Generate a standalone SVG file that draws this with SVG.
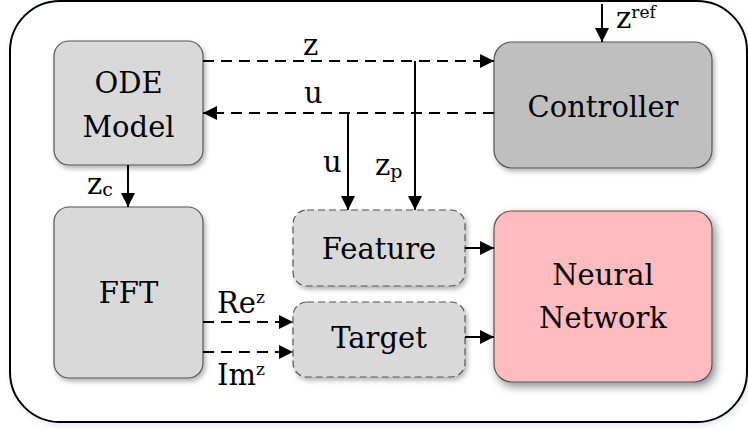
<svg xmlns="http://www.w3.org/2000/svg" width="748" height="429" viewBox="0 0 748 429">
<style>
.t{font-family:"DejaVu Serif","Liberation Serif",serif;fill:#000}
.n{font-size:29px;text-anchor:middle}
.l{font-size:29px}
.s{font-size:19px}
.sp{font-size:17px}
.box{stroke:#555;stroke-width:1.2}
.dbox{stroke:#555;stroke-width:1.2;stroke-dasharray:7 4}
.c{fill:none;stroke:#000;stroke-width:2}
.d{stroke-dasharray:11 7}
</style>
<defs>
<marker id="ah" viewBox="0 0 14 14" refX="14" refY="7" markerWidth="14" markerHeight="14" markerUnits="userSpaceOnUse" orient="auto">
<path d="M0,0 L14,7 L0,14 z" fill="#000"/>
</marker>
<filter id="sh" x="-10%" y="-10%" width="125%" height="130%">
<feDropShadow dx="2" dy="3" stdDeviation="2.5" flood-color="#000" flood-opacity="0.3"/>
</filter>
<filter id="sh2" x="-15%" y="-15%" width="135%" height="135%">
<feDropShadow dx="3" dy="4" stdDeviation="5" flood-color="#000" flood-opacity="0.45"/>
</filter>
<filter id="fsh" x="-5%" y="-5%" width="110%" height="110%">
<feDropShadow dx="2" dy="3" stdDeviation="3" flood-color="#4a6a9a" flood-opacity="0.15"/>
</filter>
</defs>
<rect width="748" height="429" fill="#fff"/>
<g id="frame">
<rect x="10" y="1" width="737" height="421" rx="50" ry="50" fill="#fff" stroke="#000" stroke-width="2" filter="url(#fsh)"/>
</g>
<g id="ode">
<rect class="box" x="54" y="41" width="149" height="124" rx="15" fill="#d9d9d9" filter="url(#sh)"/>
<text class="t n" x="128.5" y="93">ODE</text>
<text class="t n" x="128.5" y="137">Model</text>
</g>
<g id="fft">
<rect class="box" x="54" y="207" width="149" height="171" rx="15" fill="#d9d9d9" filter="url(#sh)"/>
<text class="t n" x="128.5" y="303">FFT</text>
</g>
<g id="controller">
<rect class="box" x="494" y="42" width="218" height="126" rx="18" fill="#bfbfbf" filter="url(#sh)"/>
<text class="t n" x="603" y="117">Controller</text>
</g>
<g id="nn">
<rect class="box" x="494" y="211" width="218" height="171" rx="18" fill="#ffbbbd" filter="url(#sh2)"/>
<text class="t n" x="603" y="285">Neural</text>
<text class="t n" x="603" y="328">Network</text>
</g>
<g id="feature">
<rect class="dbox" x="293" y="210" width="172" height="76" rx="14" fill="#d9d9d9" filter="url(#sh)"/>
<text class="t n" x="379" y="259">Feature</text>
</g>
<g id="target">
<rect class="dbox" x="293" y="302" width="172" height="75" rx="14" fill="#d9d9d9" filter="url(#sh)"/>
<text class="t n" x="379" y="348">Target</text>
</g>
<g id="connectors">
<path class="c d" d="M203,61 H494" marker-end="url(#ah)"/>
<path class="c d" d="M494,113 H203" marker-end="url(#ah)"/>
<path class="c" d="M415,61 V210" marker-end="url(#ah)"/>
<path class="c" d="M348,113 V210" marker-end="url(#ah)"/>
<path class="c" d="M128,165 V207" marker-end="url(#ah)"/>
<path class="c" d="M602,4 V42" marker-end="url(#ah)"/>
<path class="c" d="M465,248 H494" marker-end="url(#ah)"/>
<path class="c" d="M465,337 H494" marker-end="url(#ah)"/>
<path class="c d" d="M203,322 H293" marker-end="url(#ah)"/>
<path class="c d" d="M203,352 H293" marker-end="url(#ah)"/>
</g>
<g id="labels">
<text class="t l" x="303" y="55">z</text>
<text class="t l" x="304" y="103">u</text>
<text class="t l" x="323" y="172">u</text>
<text class="t l" x="375" y="175">z<tspan class="s" dy="3">p</tspan></text>
<text class="t l" x="87" y="194">z<tspan class="s" dy="2">c</tspan></text>
<text class="t l" x="616" y="28">z<tspan class="sp" dy="-10">ref</tspan></text>
<text class="t l" x="217" y="313">Re<tspan class="sp" dy="-10">z</tspan></text>
<text class="t l" x="217" y="385">Im<tspan class="sp" dy="-10">z</tspan></text>
</g>
</svg>
